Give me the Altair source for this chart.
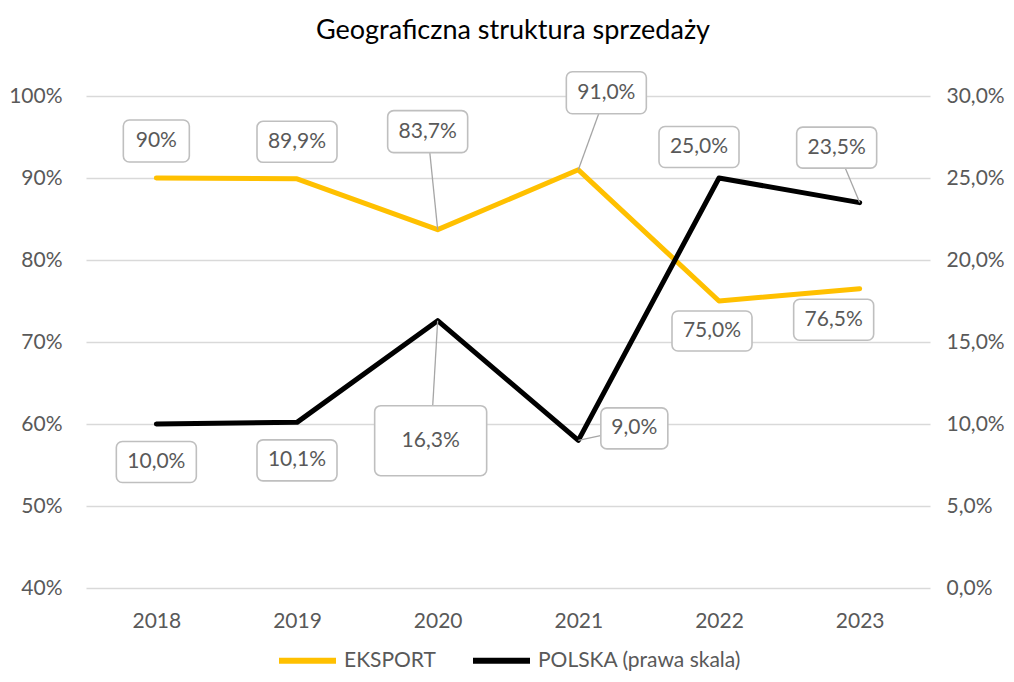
import altair as alt
import pandas as pd

# ---------------- data ----------------
years = [2018, 2019, 2020, 2021, 2022, 2023]
eksport = [90.0, 89.9, 83.7, 91.0, 75.0, 76.5]
polska = [10.0, 10.1, 16.3, 9.0, 25.0, 23.5]
eksport_text = ["90%", "89,9%", "83,7%", "91,0%", "75,0%", "76,5%"]
polska_text = ["10,0%", "10,1%", "16,3%", "9,0%", "25,0%", "23,5%"]
series_names = ["EKSPORT", "POLSKA (prawa skala)"]
series_colors = ["#FFC000", "#000000"]

# ---------------- label layout (pixels, relative to the point) ----------------
eks_dx = [0, 0, -10, 28, -7, -26]
eks_dy = [-37, -37, -98, -77, 30, 31]
eks_w = [66, 80, 80, 80, 80, 80]
eks_h = [42, 41, 42, 42, 40, 41]
eks_leader = [False, False, True, True, False, False]

pol_dx = [0, 0, -7, 56, -20, -23]
pol_dy = [38, 38, 120, -12, -31, -55]
pol_w = [80, 80, 112, 67, 80, 80]
pol_h = [41, 41, 70, 41, 41, 41]
pol_leader = [False, False, True, True, False, True]

W, H = 844, 492
X_DOMAIN = [2017.5, 2023.5]
LEFT_DOMAIN = [40, 100]
RIGHT_DOMAIN = [0, 30]

FONT = "Lato"
TXT = "#595959"
FS = 21

px_x = W / (X_DOMAIN[1] - X_DOMAIN[0])
px_left = H / (LEFT_DOMAIN[1] - LEFT_DOMAIN[0])
px_right = H / (RIGHT_DOMAIN[1] - RIGHT_DOMAIN[0])


def label_frame(values, texts, dx, dy, w, h, leader, pxy):
    rows = []
    for i, yr in enumerate(years):
        v = values[i]
        rows.append(dict(
            year=yr, value=v, text=texts[i],
            lx=yr + dx[i] / px_x,
            ly=v - dy[i] / pxy,
            bx1=yr + (dx[i] - w[i] / 2) / px_x,
            bx2=yr + (dx[i] + w[i] / 2) / px_x,
            by1=v - (dy[i] - h[i] / 2) / pxy,
            by2=v - (dy[i] + h[i] / 2) / pxy,
            leader=leader[i],
        ))
    return pd.DataFrame(rows)


eks_df = label_frame(eksport, eksport_text, eks_dx, eks_dy, eks_w, eks_h, eks_leader, px_left)
pol_df = label_frame(polska, polska_text, pol_dx, pol_dy, pol_w, pol_h, pol_leader, px_right)
eks_df["series"] = series_names[0]
pol_df["series"] = series_names[1]

xscale = alt.Scale(domain=X_DOMAIN, nice=False, zero=False)
x_axis = alt.Axis(values=years, format="d", grid=False, domain=False, ticks=False,
                  labelPadding=22, labelFontSize=FS, labelColor=TXT, labelFont=FONT,
                  title=None)

color_enc = alt.Color("series:N",
                      scale=alt.Scale(domain=series_names, range=series_colors),
                      legend=alt.Legend(orient="none", legendX=190, legendY=533,
                                        direction="horizontal", title=None,
                                        symbolType="stroke", symbolSize=3249,
                                        symbolStrokeWidth=6, labelFontSize=FS,
                                        labelColor=TXT, labelFont=FONT, labelLimit=400,
                                        columnPadding=25, labelOffset=5))


def group(df, domain, axis):
    yscale = alt.Scale(domain=domain, nice=False, zero=False)
    base = alt.Chart(df)
    line = base.mark_line(strokeWidth=5, strokeCap="round", strokeJoin="round").encode(
        x=alt.X("year:Q", scale=xscale, axis=x_axis),
        y=alt.Y("value:Q", scale=yscale, axis=axis),
        color=color_enc,
    )
    lead = base.transform_filter("datum.leader").mark_rule(
        color="#A6A6A6", strokeWidth=1.3).encode(
        x=alt.X("year:Q", scale=xscale, axis=x_axis),
        y=alt.Y("value:Q", scale=yscale, axis=axis),
        x2="lx:Q", y2="ly:Q",
    )
    box = base.mark_rect(fill="white", stroke="#BFBFBF", strokeWidth=1.6,
                         cornerRadius=6).encode(
        x=alt.X("bx1:Q", scale=xscale, axis=x_axis),
        x2="bx2:Q",
        y=alt.Y("by1:Q", scale=yscale, axis=axis),
        y2="by2:Q",
    )
    text = base.mark_text(font=FONT, fontSize=FS, color=TXT, align="center",
                          baseline="middle").encode(
        x=alt.X("lx:Q", scale=xscale, axis=x_axis),
        y=alt.Y("ly:Q", scale=yscale, axis=axis),
        text="text:N",
    )
    return alt.layer(line, lead, box, text)


left_axis = alt.Axis(values=[40, 50, 60, 70, 80, 90, 100], orient="left",
                     labelExpr="datum.value + '%'", grid=True, gridColor="#D9D9D9",
                     gridWidth=1.5, domain=False, ticks=False, labelPadding=24,
                     labelFontSize=FS, labelColor=TXT, labelFont=FONT, title=None)
right_axis = alt.Axis(values=[0, 5, 10, 15, 20, 25, 30], orient="right",
                      labelExpr="replace(format(datum.value, '.1f'), '.', ',') + '%'",
                      grid=False, domain=False, ticks=False, labelPadding=16,
                      labelFontSize=FS, labelColor=TXT, labelFont=FONT, title=None)

left = group(eks_df, LEFT_DOMAIN, left_axis)
right = group(pol_df, RIGHT_DOMAIN, right_axis)

chart = alt.layer(left, right).resolve_scale(y="independent").properties(
    width=W, height=H,
    title=alt.TitleParams("Geograficzna struktura sprzedaży", fontSize=27, font=FONT,
                          fontWeight="normal", color="#000000", anchor="middle",
                          frame="group", offset=26, dx=5),
    autosize=alt.AutoSizeParams(type="none"),
    padding={"left": 78, "top": 88, "right": 76, "bottom": 86},
).configure_view(stroke=None)

chart.save("out.html", embed_options={"renderer": "svg", "actions": False})
